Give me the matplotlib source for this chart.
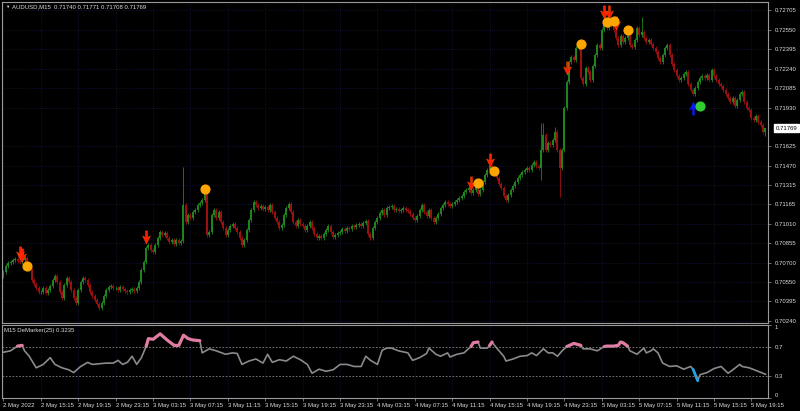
import matplotlib.pyplot as plt
from matplotlib.path import Path
import numpy as np

plt.rcParams['font.family'] = ['Liberation Sans', 'DejaVu Sans']

symbol_title = 'AUDUSD,M15  0.71740 0.71771 0.71708 0.71769'
indicator_title = 'M15 DeMarker(25) 0.3235'
last_price = 0.71769

# M15 closes in points (price * 1e5), first bar 2 May 2022 11:15
first_open = 70600
closes = [
    70628, 70676, 70699, 70707, 70723, 70731, 70715, 70707, 70723, 70739, 70692, 70644, 70565, 70533, 70501, 70470,
    70470, 70501, 70462, 70486, 70517, 70565, 70596, 70549, 70470, 70422, 70525, 70581, 70549, 70486, 70422, 70383,
    70486, 70549, 70581, 70565, 70525, 70470, 70438, 70406, 70375, 70343, 70383, 70438, 70486, 70509, 70517, 70501,
    70501, 70486, 70509, 70493, 70478, 70470, 70486, 70493, 70478, 70501, 70549, 70644, 70707, 70818, 70842, 70803,
    70787, 70842, 70898, 70945, 70922, 70937, 70898, 70866, 70882, 70850, 70882, 70858, 70874, 71160, 71025, 71080,
    71056, 71104, 71120, 71160, 71175, 71199, 71262, 70922, 70945, 71080, 71120, 71056, 71104, 71025, 70977, 70922,
    70961, 70993, 71009, 70977, 70945, 70898, 70842, 70882, 70961, 71040, 71120, 71183, 71160, 71136, 71152, 71128,
    71144, 71120, 71160, 71104, 71056, 71025, 70977, 71001, 71080, 71136, 71167, 71104, 71025, 70993, 71040, 71009,
    70993, 70961, 70993, 71025, 70977, 70929, 70898, 70914, 70898, 70929, 70961, 70993, 70945, 70906, 70922, 70937,
    70945, 70969, 70953, 70977, 70969, 70993, 70985, 71001, 71009, 70993, 71017, 71033, 70929, 70898, 70977, 71025,
    71056, 71096, 71120, 71080, 71136, 71144, 71152, 71120, 71128, 71112, 71120, 71136, 71120, 71112, 71088, 71056,
    71040, 71072, 71120, 71160, 71104, 71072, 71120, 71056, 71025, 71056, 71088, 71136, 71160, 71183, 71167, 71152,
    71167, 71183, 71199, 71215, 71231, 71262, 71278, 71294, 71255, 71278, 71310, 71247, 71278, 71342, 71397, 71437,
    71468, 71453, 71421, 71373, 71326, 71294, 71231, 71199, 71239, 71278, 71310, 71342, 71373, 71397, 71421, 71437,
    71453, 71437, 71476, 71500, 71468, 71453, 71595, 71714, 71595, 71651, 71635, 71675, 71738, 71595, 71453, 71595,
    71928, 72134, 72293, 72332, 72309, 72404, 72451, 72166, 72118, 72245, 72213, 72150, 72261, 72348, 72428, 72404,
    72546, 72610, 72562, 72586, 72594, 72546, 72483, 72428, 72499, 72451, 72483, 72507, 72428, 72412, 72467, 72562,
    72507, 72531, 72483, 72451, 72467, 72435, 72404, 72372, 72324, 72293, 72348, 72404, 72428, 72348, 72277, 72229,
    72182, 72150, 72166, 72198, 72213, 72118, 72071, 72039, 72087, 72134, 72166, 72182, 72166, 72190, 72150, 72229,
    72182, 72150, 72118, 72102, 72071, 72039, 72007, 71976, 72007, 71944, 71992, 72039, 72055, 71976, 71928, 71912,
    71849, 71833, 71865, 71817, 71793, 71740, 71769,
]
# bars with long wicks (bar index -> points)
spike_highs = {77: 71461, 86: 71294, 230: 71809, 231: 71809, 236: 71777, 258: 72649, 273: 72649, 326: 71771}
spike_lows = {230: 71358, 238: 71223, 326: 71708}

# signal markers: bar index, price in points
sell_arrow_bars = [7, 8, 61, 200, 208, 241, 257, 259, 262]
sell_arrow_pts = [70779, 70763, 70906, 71334, 71516, 72245, 72689, 72689, 72602]
orange_dot_bars = [10, 86, 203, 210, 247, 258, 261, 267]
orange_dot_pts = [70676, 71286, 71334, 71429, 72435, 72610, 72618, 72546]
buy_arrow_bars = [295]
buy_arrow_pts = [71928]
green_dot_bars = [298]
green_dot_pts = [71944]

# DeMarker(25)
dem_bars = [0, 3, 6, 8, 9, 11, 14, 17, 20, 22, 25, 28, 30, 33, 36, 38, 41, 44, 47, 49, 51, 53, 55, 57, 59,
            61, 62, 64, 67, 70, 73, 75, 77, 79, 81, 84, 85, 88, 91, 95, 98, 100, 102, 105, 108, 111, 113, 115,
            118, 121, 124, 127, 130, 132, 135, 138, 141, 144, 147, 150, 153, 155, 157, 160, 162, 164, 166, 169,
            173, 175, 178, 181, 182, 185, 187, 190, 191, 194, 197, 200, 201, 203, 204, 207, 208, 209, 211, 214,
            215, 218, 221, 224, 226, 228, 231, 233, 235, 237, 239, 241, 244, 247, 248, 251, 254, 257, 258, 261,
            263, 264, 265, 267, 268, 271, 274, 275, 277, 278, 280, 282, 285, 288, 291, 294, 295, 297, 298, 301,
            304, 307, 310, 312, 315, 316, 319, 322, 325, 326]
dem_vals = [0.623, 0.642, 0.706, 0.716, 0.642, 0.568, 0.411, 0.457, 0.549, 0.457, 0.411, 0.383, 0.346, 0.429,
            0.485, 0.457, 0.466, 0.475, 0.475, 0.512, 0.457, 0.485, 0.568, 0.457, 0.549,
            0.700, 0.808, 0.799, 0.873, 0.789, 0.716, 0.716, 0.854, 0.808, 0.789, 0.780, 0.614, 0.669, 0.642,
            0.595, 0.614, 0.605, 0.457, 0.503, 0.531, 0.475, 0.595, 0.485,
            0.521, 0.503, 0.568, 0.521, 0.457, 0.337, 0.392, 0.364, 0.383, 0.457, 0.457, 0.429, 0.429, 0.568,
            0.512, 0.457, 0.651, 0.679, 0.679, 0.642,
            0.614, 0.512, 0.549, 0.605, 0.679, 0.595, 0.568, 0.614, 0.558, 0.595, 0.614, 0.700, 0.752, 0.762,
            0.679, 0.679, 0.716, 0.762, 0.679, 0.568,
            0.503, 0.531, 0.568, 0.577, 0.614, 0.577, 0.669, 0.614, 0.614, 0.568, 0.642, 0.700, 0.743, 0.716,
            0.669, 0.669, 0.642, 0.700, 0.706, 0.706,
            0.716, 0.762, 0.752, 0.706, 0.642, 0.595, 0.679, 0.614, 0.642, 0.669, 0.614, 0.475, 0.429, 0.438,
            0.392, 0.429, 0.392, 0.235, 0.318, 0.346,
            0.401, 0.429, 0.337, 0.383, 0.457, 0.429, 0.411, 0.374, 0.337, 0.3235]
dem_hot_ranges = [(6, 8), (61, 84), (200, 203), (208, 209), (241, 247), (257, 267)]
dem_cold_ranges = [(295, 297)]

price_ticks = [0.72705, 0.72550, 0.72395, 0.72240, 0.72085, 0.71930, 0.71625, 0.71470,
               0.71315, 0.71165, 0.71010, 0.70855, 0.70700, 0.70550, 0.70395, 0.70240]
date_labels = ['2 May 2022', '2 May 15:15', '2 May 19:15', '2 May 23:15', '3 May 03:15', '3 May 07:15',
               '3 May 11:15', '3 May 15:15', '3 May 19:15', '3 May 23:15', '4 May 03:15', '4 May 07:15',
               '4 May 11:15', '4 May 15:15', '4 May 19:15', '4 May 23:15', '5 May 03:15', '5 May 07:15',
               '5 May 11:15', '5 May 15:15', '5 May 19:15']
bars_per_label = 16

BG = '#000000'
GRID = '#15153d'
FRAME = '#9a9a9a'
TXT = '#dcdcdc'
BULL = '#1f861f'
BEAR = '#a01010'
FS = 4.3

c = np.array(closes) / 1e5
o = np.array([first_open] + closes[:-1]) / 1e5
wick = 0.00017
hi = np.maximum(o, c) + wick
lo = np.minimum(o, c) - wick
for k, v in spike_highs.items():
    hi[k] = v / 1e5
for k, v in spike_lows.items():
    lo[k] = v / 1e5
x = np.arange(len(c))
date_ticks = [i * bars_per_label for i in range(len(date_labels))]

fig = plt.figure(figsize=(8, 4.11), dpi=100, facecolor=BG)
ax = fig.add_axes([2 / 800, 1 - 322.5 / 411, 766 / 800, 320.5 / 411], facecolor=BG)
ax2 = fig.add_axes([2 / 800, 1 - 398 / 411, 766 / 800, 73.5 / 411], facecolor=BG)
xlim = (-0.64, 327.07)

# candles
up = c >= o
dn = ~up
ax.vlines(x[up], lo[up], hi[up], color=BULL, lw=0.6)
ax.vlines(x[up], o[up], c[up], color=BULL, lw=1.4)
ax.vlines(x[dn], lo[dn], hi[dn], color=BEAR, lw=0.6)
ax.vlines(x[dn], o[dn], c[dn], color=BEAR, lw=1.4)

arrow_down = Path([(-0.15, 1), (0.15, 1), (0.15, 0), (0.6, 0.25), (0, -1),
                   (-0.6, 0.25), (-0.15, 0), (-0.15, 1)], closed=True)
arrow_up = Path([(px, -py) for px, py in arrow_down.vertices], closed=True)

ax.plot(sell_arrow_bars, np.array(sell_arrow_pts) / 1e5, ls='none', marker=arrow_down,
        ms=9.5, mfc='#ff1a00', mec='#ff5a00', mew=0.3)
ax.plot(orange_dot_bars, np.array(orange_dot_pts) / 1e5, ls='none', marker='o',
        ms=6.3, mfc='#ffa500', mec='#ffa500')
ax.plot(buy_arrow_bars, np.array(buy_arrow_pts) / 1e5, ls='none', marker=arrow_up,
        ms=9.5, mfc='#0a1aff', mec='#0a1aff', mew=0.3)
ax.plot(green_dot_bars, np.array(green_dot_pts) / 1e5, ls='none', marker='o',
        ms=6.3, mfc='#32cd32', mec='#32cd32')

ax.set_xlim(*xlim)
ax.set_ylim(0.70228, 0.72768)
ax.set_xticks(date_ticks)
ax.set_xticklabels([])
ax.tick_params(axis='x', length=0)
ax.yaxis.tick_right()
ax.set_yticks(price_ticks)
ax.set_yticklabels([f'{v:.5f}' for v in price_ticks])
ax.tick_params(axis='y', colors=FRAME, labelcolor=TXT, labelsize=FS, length=2.2, width=0.5, pad=2.5)
ax.grid(True, color=GRID, ls=(0, (1, 1.5)), lw=0.6)

ax.text(1.0095, last_price, last_price, transform=ax.get_yaxis_transform(), ha='left', va='center',
        fontsize=FS, color='black', zorder=5, clip_on=False,
        bbox=dict(boxstyle='square,pad=0.25', fc='white', ec='white'))

fig.text(5 / 800, 1 - 6.5 / 411, '▼', fontsize=3.2, color=TXT, ha='left', va='center')
fig.text(12 / 800, 1 - 6.5 / 411, symbol_title, fontsize=FS, color=TXT, ha='left', va='center')

# DeMarker panel
dem_b = np.array(dem_bars)
dem_v = np.array(dem_vals)
ax2.plot(dem_b, dem_v, color='#8a8a8a', lw=1.2, solid_joinstyle='round')
for a, b in dem_hot_ranges:
    m = (dem_b >= a) & (dem_b <= b)
    ax2.plot(dem_b[m], dem_v[m], color='#e07ca4', lw=2.3, solid_capstyle='round')
for a, b in dem_cold_ranges:
    m = (dem_b >= a) & (dem_b <= b)
    ax2.plot(dem_b[m], dem_v[m], color='#1aa6e6', lw=2.0, solid_capstyle='round')
ax2.axhline(0.7, color='#8a8a8a', ls=(0, (2, 2)), lw=0.6)
ax2.axhline(0.3, color='#8a8a8a', ls=(0, (2, 2)), lw=0.6)

ax2.set_xlim(*xlim)
ax2.set_ylim(0, 1)
ax2.set_xticks(date_ticks)
ax2.set_xticklabels(date_labels, ha='left')
ax2.tick_params(axis='x', colors=FRAME, labelcolor=TXT, labelsize=FS, length=2.2, width=0.5, pad=1.5)
ax2.grid(True, axis='x', color=GRID, ls=(0, (1, 1.5)), lw=0.6)
ax2.yaxis.tick_right()
ax2.set_yticks([0, 0.3, 0.7, 1])
ax2.set_yticklabels(['0', '0.3', '0.7', '1'])
ax2.tick_params(axis='y', colors=FRAME, labelcolor=TXT, labelsize=FS, length=2.2, width=0.5, pad=2.5)
ylabels = ax2.get_yticklabels()
ylabels[0].set_va('bottom')
ylabels[-1].set_va('top')

fig.text(4 / 800, 1 - 330 / 411, indicator_title, fontsize=FS, color=TXT, ha='left', va='center')

for a in (ax, ax2):
    for s in a.spines.values():
        s.set_color(FRAME)
        s.set_linewidth(0.8)

fig.savefig('out.png', dpi=100, facecolor=BG)
